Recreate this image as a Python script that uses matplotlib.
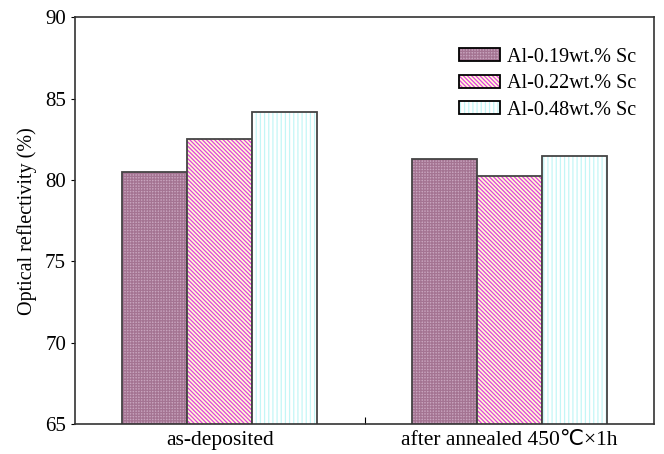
import matplotlib.pyplot as plt
import numpy as np
from matplotlib.patches import Patch
from matplotlib.legend_handler import HandlerTuple

plt.rcParams['font.family'] = ['Liberation Serif', 'DejaVu Sans']
plt.rcParams['hatch.linewidth'] = 0.9

# dados
categories = ['as-deposited', 'after annealed 450\u2103\u00d71h']
series = ['Al-0.19wt.% Sc', 'Al-0.22wt.% Sc', 'Al-0.48wt.% Sc']
al019 = [80.5, 81.3]
al022 = [82.5, 80.25]
al048 = [84.15, 81.5]

faces = ['#c8a4be', '#ffffd0', '#ffffff']
hatch_colors = ['#a47492', '#e040e0', '#c4f6f6']
hatches = ['++++++', '\\\\\\\\\\\\\\\\', '||||']

fig = plt.figure(figsize=(6.64, 4.54), dpi=100)
ax = fig.add_axes([0.113, 0.066, 0.872, 0.896])

x = np.arange(len(categories))
w = 0.225
for i, vals in enumerate([al019, al022, al048]):
    pos = x + (i - 1) * w
    ax.bar(pos, vals, w, bottom=0, color=faces[i], hatch=hatches[i],
           edgecolor=hatch_colors[i], linewidth=0)
    ax.bar(pos, vals, w, fill=False, edgecolor='#444444', linewidth=1.3)

ax.set_ylim(65, 90)
ax.set_xlim(-0.5, 1.5)
ax.set_yticks([65, 70, 75, 80, 85, 90])
ax.tick_params(axis='y', direction='out', length=3, labelsize=15, width=0.8)
ax.set_xticks([0.5])
ax.set_xticklabels([''])
ax.tick_params(axis='x', direction='in', length=5, width=0.8)
for i, c in enumerate(categories):
    ax.annotate(c, (x[i], 65), xytext=(0, -12), textcoords='offset points',
                ha='center', va='center', fontsize=15.5, annotation_clip=False)
ax.set_ylabel('Optical reflectivity (%)', fontsize=14.5, labelpad=6)
for s in ax.spines.values():
    s.set_color('#333333')
    s.set_linewidth(1.2)

handles = []
for i in range(3):
    fill = Patch(facecolor=faces[i], hatch=hatches[i],
                 edgecolor=hatch_colors[i], linewidth=0)
    edge = Patch(fill=False, edgecolor='black', linewidth=1.3)
    handles.append((fill, edge))
ax.legend(handles=handles, labels=series, loc='upper right', frameon=False,
          fontsize=14.5, handlelength=2.0, handleheight=0.6, labelspacing=0.38,
          bbox_to_anchor=(1.0, 0.97), handletextpad=0.35,
          handler_map={tuple: HandlerTuple(ndivide=1, pad=0)})

fig.savefig('out.png', dpi=100)
